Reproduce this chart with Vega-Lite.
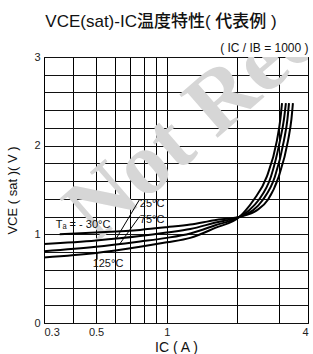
{
  "$schema": "https://vega.github.io/schema/vega-lite/v6.json",
  "width": 264,
  "height": 266,
  "autosize": "none",
  "padding": {"left": 44, "top": 57, "right": 5, "bottom": 31},
  "background": "white",
  "config": {
    "view": {"stroke": "#000", "strokeWidth": 1},
    "font": "Liberation Sans",
    "axis": {"labelFont": "Liberation Sans", "titleFont": "Liberation Sans"}
  },
  "title": {
    "text": "VCE(sat)-IC温度特性( 代表例 )",
    "font": "Liberation Sans, Noto Sans CJK JP",
    "fontSize": 17,
    "fontWeight": 500,
    "color": "#111",
    "anchor": "middle",
    "frame": "group",
    "dx": -15,
    "offset": 10
  },
  "datasets": {
    "curves": [
      {"T": "-30", "Ic": 0.35, "V": 1.0},
      {"T": "-30", "Ic": 0.5, "V": 1.02},
      {"T": "-30", "Ic": 0.77, "V": 1.05},
      {"T": "-30", "Ic": 1.0, "V": 1.08},
      {"T": "-30", "Ic": 1.26, "V": 1.11},
      {"T": "-30", "Ic": 1.6, "V": 1.16},
      {"T": "-30", "Ic": 2.05, "V": 1.2},
      {"T": "-30", "Ic": 2.42, "V": 1.27},
      {"T": "-30", "Ic": 2.7, "V": 1.39},
      {"T": "-30", "Ic": 3.0, "V": 1.65},
      {"T": "-30", "Ic": 3.29, "V": 2.06},
      {"T": "-30", "Ic": 3.4, "V": 2.3},
      {"T": "-30", "Ic": 3.45, "V": 2.48},
      {"T": "25", "Ic": 0.3, "V": 0.89},
      {"T": "25", "Ic": 0.5, "V": 0.93},
      {"T": "25", "Ic": 0.77, "V": 0.98},
      {"T": "25", "Ic": 1.0, "V": 1.02},
      {"T": "25", "Ic": 1.26, "V": 1.06},
      {"T": "25", "Ic": 1.6, "V": 1.13},
      {"T": "25", "Ic": 2.05, "V": 1.2},
      {"T": "25", "Ic": 2.33, "V": 1.27},
      {"T": "25", "Ic": 2.57, "V": 1.39},
      {"T": "25", "Ic": 2.89, "V": 1.65},
      {"T": "25", "Ic": 3.16, "V": 2.06},
      {"T": "25", "Ic": 3.27, "V": 2.3},
      {"T": "25", "Ic": 3.32, "V": 2.48},
      {"T": "75", "Ic": 0.3, "V": 0.81},
      {"T": "75", "Ic": 0.5, "V": 0.86},
      {"T": "75", "Ic": 0.77, "V": 0.92},
      {"T": "75", "Ic": 1.0, "V": 0.96},
      {"T": "75", "Ic": 1.26, "V": 1.01},
      {"T": "75", "Ic": 1.6, "V": 1.1},
      {"T": "75", "Ic": 2.05, "V": 1.2},
      {"T": "75", "Ic": 2.24, "V": 1.27},
      {"T": "75", "Ic": 2.47, "V": 1.39},
      {"T": "75", "Ic": 2.78, "V": 1.65},
      {"T": "75", "Ic": 3.04, "V": 2.06},
      {"T": "75", "Ic": 3.16, "V": 2.3},
      {"T": "75", "Ic": 3.22, "V": 2.48},
      {"T": "125", "Ic": 0.3, "V": 0.74},
      {"T": "125", "Ic": 0.5, "V": 0.79},
      {"T": "125", "Ic": 0.77, "V": 0.86},
      {"T": "125", "Ic": 1.0, "V": 0.91},
      {"T": "125", "Ic": 1.26, "V": 0.96},
      {"T": "125", "Ic": 1.6, "V": 1.07},
      {"T": "125", "Ic": 2.05, "V": 1.2},
      {"T": "125", "Ic": 2.17, "V": 1.27},
      {"T": "125", "Ic": 2.35, "V": 1.39},
      {"T": "125", "Ic": 2.67, "V": 1.65},
      {"T": "125", "Ic": 2.95, "V": 2.06},
      {"T": "125", "Ic": 3.05, "V": 2.3},
      {"T": "125", "Ic": 3.1, "V": 2.48}
    ],
    "labels": [
      {"label": "Tₐ =  - 30°C", "Ic": 0.44, "V": 1.105},
      {"label": "25°C", "Ic": 0.866, "V": 1.34},
      {"label": "75°C", "Ic": 0.866, "V": 1.16},
      {"label": "125°C", "Ic": 0.562, "V": 0.665}
    ],
    "leaders": [
      {"Ic": 0.765, "V": 1.39, "Ic2": 0.61, "V2": 0.955},
      {"Ic": 0.765, "V": 1.2, "Ic2": 0.63, "V2": 0.89},
      {"Ic": 0.505, "V": 0.715, "Ic2": 0.505, "V2": 0.79}
    ],
    "watermark": [
      {"text": "Not Recommended", "Ic": 0.5, "V": 0.9}
    ]
  },
  "resolve": {"axis": {"x": "independent", "y": "independent"}},
  "layer": [
    {
      "data": {"name": "watermark"},
      "mark": {"type": "text", "clip": true, "font": "Liberation Serif", "fontWeight": "bold", "fontSize": 88, "angle": -41, "align": "left", "baseline": "alphabetic", "color": "#d6d6d6", "blend": "multiply"},
      "encoding": {
        "x": {"field": "Ic", "type": "quantitative", "scale": {"type": "log", "domain": [0.3, 4], "nice": false}, "axis": null},
        "y": {"field": "V", "type": "quantitative", "scale": {"domain": [0, 3], "nice": false}, "axis": null},
        "text": {"field": "text"}
      }
    },
    {
      "data": {"name": "curves"},
      "mark": {"type": "line", "color": "#000", "strokeWidth": 2, "interpolate": "monotone"},
      "encoding": {
        "x": {
          "field": "Ic", "type": "quantitative",
          "scale": {"type": "log", "domain": [0.3, 4], "nice": false},
          "axis": {
            "values": [0.3, 0.4, 0.5, 0.6, 0.7, 0.8, 0.9, 1, 2, 3, 4],
            "format": "~g",
            "labelExpr": "indexof([0.3, 0.5, 1, 4], datum.value) >= 0 ? datum.label : ''",
            "labelOverlap": false,
            "grid": true, "gridColor": "#000", "gridWidth": 1, "gridOpacity": 1,
            "ticks": false, "domain": false,
            "labelFontSize": 11, "labelColor": "#222", "labelPadding": 3,
            "title": "IC ( A )", "titleFontSize": 14, "titleFontWeight": "normal", "titleColor": "#111", "titlePadding": 3
          }
        },
        "y": {
          "field": "V", "type": "quantitative",
          "scale": {"domain": [0, 3], "nice": false},
          "axis": {
            "values": [0, 0.2, 0.4, 0.6, 0.8, 1, 1.2, 1.4, 1.6, 1.8, 2, 2.2, 2.4, 2.6, 2.8, 3],
            "format": "~g",
            "labelExpr": "round(datum.value) == datum.value ? datum.label : ''",
            "labelOverlap": false,
            "grid": true, "gridColor": "#111", "gridWidth": 1, "gridOpacity": 1,
            "ticks": false, "domain": false,
            "labelFontSize": 11, "labelColor": "#222", "labelPadding": 4,
            "title": "VCE ( sat )( V )", "titleFontSize": 13, "titleFontWeight": "normal", "titleColor": "#111", "titlePadding": 14
          }
        },
        "detail": {"field": "T"}
      }
    },
    {
      "data": {"name": "leaders"},
      "mark": {"type": "rule", "color": "#000", "strokeWidth": 1},
      "encoding": {
        "x": {"field": "Ic", "type": "quantitative", "scale": {"type": "log", "domain": [0.3, 4], "nice": false}, "axis": null},
        "x2": {"field": "Ic2"},
        "y": {"field": "V", "type": "quantitative", "scale": {"domain": [0, 3], "nice": false}, "axis": null},
        "y2": {"field": "V2"}
      }
    },
    {
      "data": {"name": "labels"},
      "mark": {"type": "text", "font": "Liberation Sans", "fontSize": 11, "color": "#111", "align": "center", "baseline": "middle"},
      "encoding": {
        "x": {
          "field": "Ic", "type": "quantitative",
          "scale": {"type": "log", "domain": [0.3, 4], "nice": false},
          "axis": {"orient": "top", "labels": false, "ticks": false, "domain": false, "grid": false,
                   "title": "( IC / IB = 1000 )", "titleAnchor": "end", "titleFontSize": 12, "titleFontWeight": "normal", "titleColor": "#111", "titlePadding": 3}
        },
        "y": {"field": "V", "type": "quantitative", "scale": {"domain": [0, 3], "nice": false}, "axis": null},
        "text": {"field": "label"}
      }
    }
  ]
}
